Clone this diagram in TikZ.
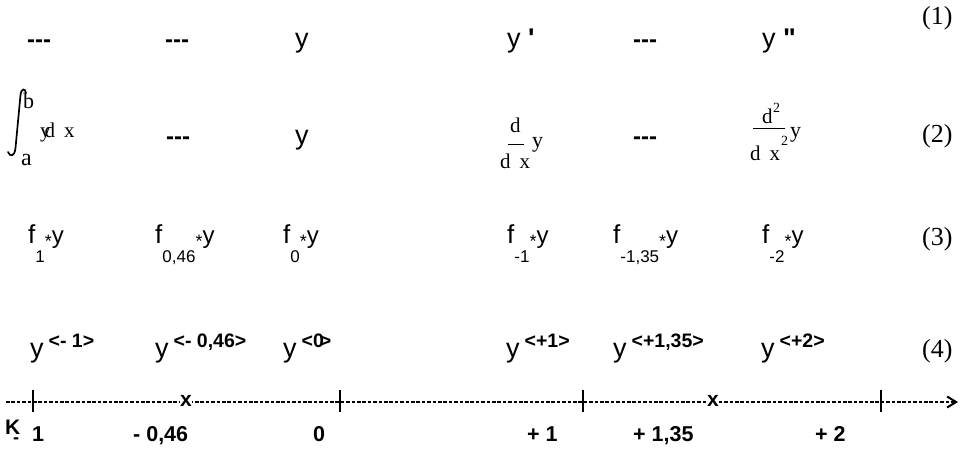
\documentclass[tikz,border=0pt]{standalone}
\usepackage{fontspec}
\setmainfont{Liberation Sans}
\newfontfamily\tmsfont{Liberation Serif}
\usetikzlibrary{arrows.meta}

\newcommand{\fsz}[1]{\fontsize{#1}{#1}\selectfont}
% f with a lowered index, then *y.
\newcommand{\fstar}[1]{{\fsz{26}f}{\fsz{17}\raisebox{-19pt}{#1}}{\fsz{18}\raisebox{-4pt}{*}}{\fsz{24}y}}
% y with a bold upper index.
\newcommand{\ysup}[1]{{\fsz{27}y}\hspace{5pt}{\fsz{19.5}\bfseries\raisebox{10pt}{#1}}}

\begin{document}
\begin{tikzpicture}[%
        > = Latex,
        x = 1pt, y = -1pt,
        line cap = round,
        txt/.style = {anchor = base west, inner sep = 0pt, font = \fsz{27}},
        voidmark/.style = {txt, font = \fsz{24}\bfseries},
        eqnum/.style = {txt, font = \tmsfont\fsz{26}},
        serif/.style = {txt, font = \tmsfont\fsz{21}},
        small serif/.style = {txt, font = \tmsfont\fsz{14}},
        lbl/.style = {txt, font = \fsz{21.5}\bfseries},
        axis/.style = {line width = 2.8pt, dash pattern = on 3.6pt off 1.8pt, line cap = butt},
        tick/.style = {line width = 2.4pt, line cap = butt},
        fracline/.style = {line width = 0.9pt, line cap = butt}
    ]

        \useasboundingbox (0, 0) rectangle (960, 453);

        % Row (1).
        \node[voidmark] (r1a) at (27, 47) {-{}-{}-};
        \node[voidmark] (r1b) at (165, 47) {-{}-{}-};
        \node[txt] (r1c) at (295, 47) {y};
        \node[txt] (r1d) at (507, 47) {y {\bfseries\textquotesingle}};
        \node[voidmark] (r1e) at (633, 47) {-{}-{}-};
        \node[txt] (r1f) at (762, 47) {y {\bfseries\textquotedbl}};
        \node[eqnum] (eq1) at (922, 24) {(1)};

        % Row (2): the integral, drawn by hand.
        \draw[line width = 1.7pt]
            (26, 93) .. controls (25, 88) and (21.5, 88) .. (20.5, 95) to
            (15.5, 148) .. controls (14.5, 157) and (10, 157) .. (8, 152);
        \node[serif, font = \tmsfont\fsz{22}] (ib) at (23, 108) {b};
        \node[serif, font = \tmsfont\fsz{24}] (ia) at (21, 165) {a};
        \node[serif] (iyd) at (40, 137) {y\kern-6pt d\hspace{9pt}x};
        \node[voidmark] (r2b) at (166, 144) {-{}-{}-};
        \node[txt] (r2c) at (295, 144) {y};

        % First derivative.
        \node[serif] (d1n) at (510, 132) {d};
        \node[serif] (d1d) at (500, 168) {d\hspace{9pt}x};
        \node[serif, font = \tmsfont\fsz{22}] (d1y) at (532, 147) {y};
        \draw[fracline] (508, 144) to (524, 144);

        \node[voidmark] (r2e) at (633, 144) {-{}-{}-};

        % Second derivative.
        \node[serif] (d2n) at (762, 123) {d};
        \node[small serif] (d2nsq) at (773, 112) {2};
        \node[serif] (d2d) at (750, 160) {d\hspace{9pt}x};
        \node[small serif] (d2dsq) at (781, 145) {2};
        \node[serif, font = \tmsfont\fsz{22}] (d2y) at (790, 137) {y};
        \draw[fracline] (753, 128) to (785, 128);
        \node[eqnum] (eq2) at (922, 142) {(2)};

        % Row (3).
        \node[txt] (f1) at (28, 243) {\fstar{1}};
        \node[txt] (f2) at (155, 243) {\fstar{0,46}};
        \node[txt] (f3) at (283, 243) {\fstar{0}};
        \node[txt] (f4) at (507, 243) {\fstar{-1}};
        \node[txt] (f5) at (613, 243) {\fstar{-1,35}};
        \node[txt] (f6) at (762, 243) {\fstar{-2}};
        \node[eqnum] (eq3) at (922, 245) {(3)};

        % Row (4).
        \node[txt] (y1) at (30, 357) {\ysup{<- 1>}};
        \node[txt] (y2) at (155, 357) {\ysup{<- 0,46>}};
        \node[txt] (y3) at (283, 357) {\ysup{<0\kern-4pt>}};
        \node[txt] (y4) at (506, 357) {\ysup{<+1>}};
        \node[txt] (y5) at (613, 357) {\ysup{<+1,35>}};
        \node[txt] (y6) at (761, 357) {\ysup{<+2>}};
        \node[eqnum] (eq4) at (922, 357) {(4)};

        % The axis.
        \coordinate (axL) at (6, 402);
        \coordinate (axR) at (958, 402);
        \draw[axis, -{Straight Barb[length = 9pt, width = 11pt, line width = 2pt]}] (axL) to (axR);
        \foreach \t in {33, 340, 583, 881}
            \draw[tick] (\t, 390) to (\t, 412);
        \node[font = \fsz{21}\bfseries, fill = white, inner sep = 0.6pt] (xa) at (186, 401) {x};
        \node[font = \fsz{21}\bfseries, fill = white, inner sep = 0.6pt] (xb) at (713, 401) {x};

        % Labels under the axis.
        \node[lbl, font = \fsz{21}\bfseries] (k) at (5, 434) {K};
        \node[lbl, font = \fsz{18}\bfseries] (kmin) at (13, 443) {-};
        \node[lbl] (k1) at (32, 441) {1};
        \node[lbl] (k2) at (133, 441) {- 0,46};
        \node[lbl] (k3) at (313, 441) {0};
        \node[lbl] (k4) at (527, 441) {+ 1};
        \node[lbl] (k5) at (633, 441) {+ 1,35};
        \node[lbl] (k6) at (815, 441) {+ 2};
    \end{tikzpicture}
\end{document}
